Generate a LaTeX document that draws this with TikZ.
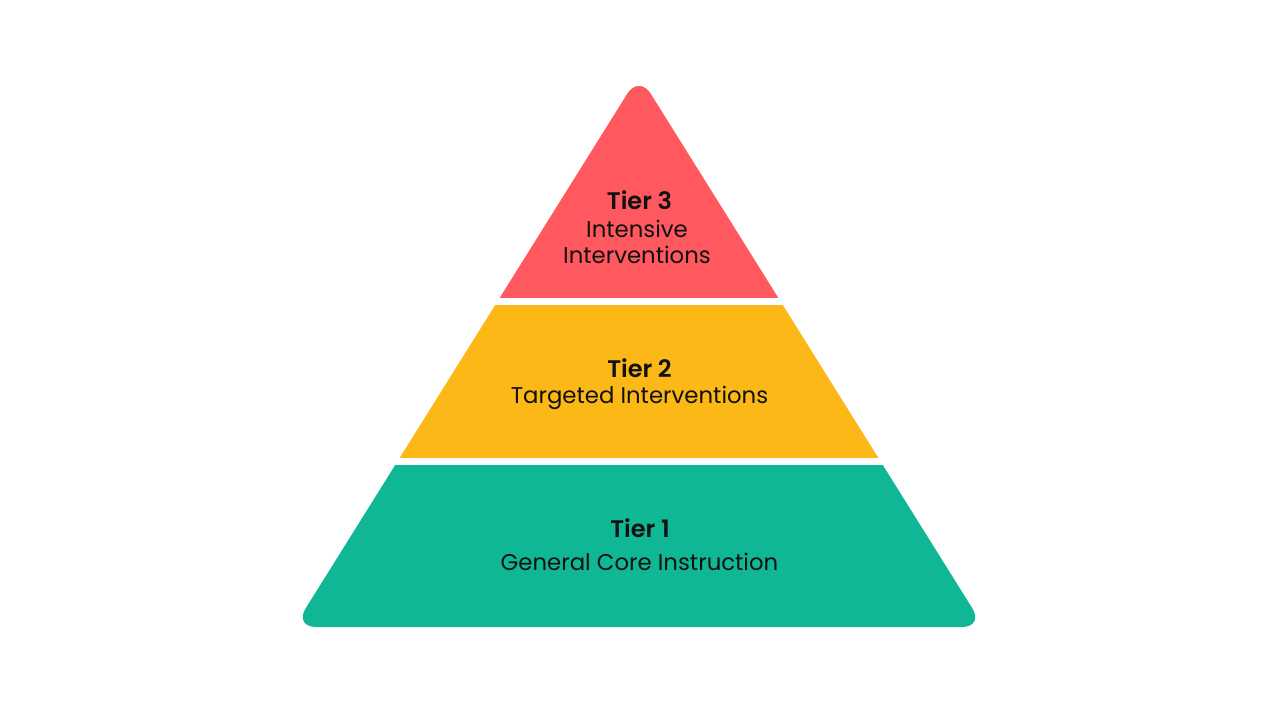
\documentclass[tikz,border=0pt]{standalone}
\usepackage{fontspec}
\setmainfont{Poppins}
\newfontfamily\semibd{Poppins SemiBold}
\definecolor{tierred}{RGB}{255,88,94}
\definecolor{tieryellow}{RGB}{251,184,22}
\definecolor{tiergreen}{RGB}{16,183,148}
\definecolor{tiertext}{RGB}{17,17,17}
\begin{document}
\begin{tikzpicture}[x=1pt,y=-1pt,
  tiertitle/.style={font=\fontsize{24}{28}\selectfont\semibd, text=tiertext, inner sep=0pt, anchor=center},
  tierdesc/.style={font=\fontsize{22.8}{26.5}\selectfont, text=tiertext, inner sep=0pt, anchor=center, align=center},
  pyramid/.style={rounded corners=22pt}]
\useasboundingbox (0,0) rectangle (1280,719);
\fill[white] (0,0) rectangle (1280,719);
\coordinate (apex) at (639,75);
\coordinate (bl) at (294,627);
\coordinate (br) at (984,627);
\begin{scope}
  \clip (0,0) rectangle (1280,298);
  \fill[tierred, pyramid] (apex) -- (br) -- (bl) -- cycle;
\end{scope}
\begin{scope}
  \clip (0,306) rectangle (1280,457);
  \fill[tieryellow, pyramid] (apex) -- (br) -- (bl) -- cycle;
\end{scope}
\begin{scope}
  \clip (0,465) rectangle (1280,719);
  \fill[tiergreen, pyramid] (apex) -- (br) -- (bl) -- cycle;
\end{scope}
\node[tiertitle] (t3) at (639.5,200) {Tier 3};
\node[tierdesc] (d3) at (637,242) {Intensive\\Interventions};
\node[tiertitle] (t2) at (639.5,368) {Tier 2};
\node[tierdesc] (d2) at (639.5,398) {Targeted Interventions};
\node[tiertitle] (t1) at (640,528) {Tier 1};
\node[tierdesc] (d1) at (639.5,562) {General Core Instruction};
\end{tikzpicture}
\end{document}
